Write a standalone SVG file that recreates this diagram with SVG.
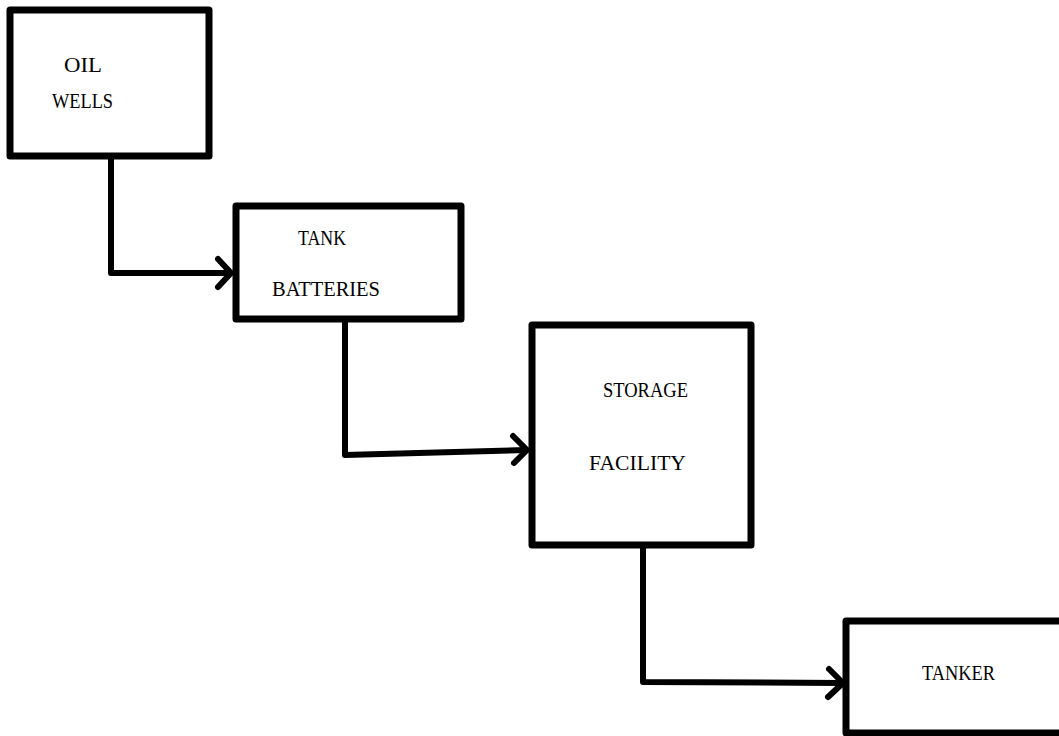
<svg xmlns="http://www.w3.org/2000/svg" width="1059" height="736" viewBox="0 0 1059 736">
<defs>
<style>
.box{fill:#fff;stroke:#000;stroke-width:7;stroke-linejoin:round}
.conn{fill:none;stroke:#000;stroke-width:6;stroke-linejoin:round;stroke-linecap:round}
.head{fill:none;stroke:#000;stroke-width:6;stroke-linecap:round;stroke-linejoin:round}
.lbl{font-family:"Liberation Serif","DejaVu Serif",serif;font-size:22px;fill:#000}
</style>
</defs>
<rect width="1059" height="736" fill="#fff"/>
<g id="connectors">
<path class="conn" d="M111,158 L111,273 L230,273"/>
<path class="head" d="M218,259 L231,273 L218,287"/>
<path class="conn" d="M345,321 L345,455 L526,450"/>
<path class="head" d="M513,436 L527,450 L514,463"/>
<path class="conn" d="M643,546 L643,682 L842,683"/>
<path class="head" d="M829,669 L843,683 L828,697"/>
</g>
<g id="oil-wells">
<rect class="box" x="10" y="10" width="199" height="146"/>
<text class="lbl" x="64" y="72" textLength="38" lengthAdjust="spacingAndGlyphs">OIL</text>
<text class="lbl" x="52" y="108" textLength="61" lengthAdjust="spacingAndGlyphs">WELLS</text>
</g>
<g id="tank-batteries">
<rect class="box" x="236" y="206" width="225" height="113"/>
<text class="lbl" x="298" y="245" textLength="48" lengthAdjust="spacingAndGlyphs">TANK</text>
<text class="lbl" x="272" y="296" textLength="108" lengthAdjust="spacingAndGlyphs">BATTERIES</text>
</g>
<g id="storage-facility">
<rect class="box" x="532" y="325" width="219" height="220"/>
<text class="lbl" x="603" y="397" textLength="85" lengthAdjust="spacingAndGlyphs">STORAGE</text>
<text class="lbl" x="589" y="470" textLength="97" lengthAdjust="spacingAndGlyphs">FACILITY</text>
</g>
<g id="tanker">
<rect class="box" x="846" y="621" width="230" height="112"/>
<text class="lbl" x="922" y="680" textLength="73" lengthAdjust="spacingAndGlyphs">TANKER</text>
</g>
</svg>
